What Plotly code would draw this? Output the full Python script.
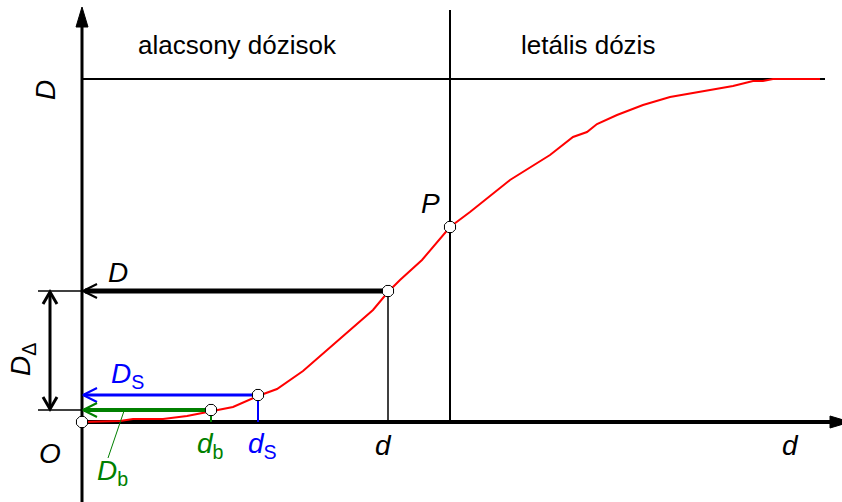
import plotly.graph_objects as go

# dose-response curve (d = dose, R = response)
dose = [0, 38, 51, 81, 105, 129, 151, 176, 195, 221, 245, 271, 291, 306, 318, 340, 351,
        368, 388, 428, 468, 491, 505, 515, 535, 561, 588, 618, 651, 671, 681, 691, 738]
resp = [0, 1, 3, 3, 6, 11, 15, 26, 33, 51, 72, 95, 112, 130, 142, 162, 175,
        195, 210, 242, 267, 285, 290, 298, 307, 317, 325, 330, 336, 341, 341, 343, 343]

D_max = 343          # plateau (lethal response)
d_P, D_P = 368, 195  # point P, border of lethal doses
d_x, D_x = 306, 131  # a dose d and its response D
d_s, D_s = 176, 27
d_b, D_b = 129, 12

x_end, y_top, y_bot = 768, 415, -80
FONT = "Liberation Sans, Arial, sans-serif"
BLUE, GREEN, RED = "#0000ff", "#008000", "#ff0000"

fig = go.Figure()


def line(xs, ys, color="black", width=2):
    fig.add_trace(go.Scatter(x=xs, y=ys, mode="lines", hoverinfo="skip",
                             line=dict(color=color, width=width)))


def chevron(xt, yt, ax, ay, bx, by, color, width=2):
    # open arrow head: two arms meeting at the tip
    line([xt + ax, xt, xt + bx], [yt + ay, yt, yt + by], color, width)


def tri(xs, ys):
    fig.add_trace(go.Scatter(x=xs, y=ys, mode="lines", fill="toself", fillcolor="black",
                             line=dict(color="black", width=1), hoverinfo="skip"))


def label(x, y, text, color="black", size=28, angle=0):
    fig.add_annotation(x=x, y=y, text=text, showarrow=False, textangle=angle,
                       font=dict(family=FONT, size=size, color=color),
                       xanchor="center", yanchor="middle")


# axes with filled arrow heads
line([0, 0], [y_bot, y_top - 18], width=3)
tri([-6, 0, 6, -6], [y_top - 20, y_top, y_top - 20, y_top - 20])
line([0, x_end - 18], [0, 0], width=4)
tri([x_end - 20, x_end, x_end - 20, x_end - 20], [6, 0, -6, 6])

# plateau and lethal border
line([0, 743], [D_max, D_max])
line([d_P, d_P], [0, 412])

# curve
line(dose, resp, RED, 2)

# D arrow (black)
line([d_x, d_x], [D_x, 0], width=1.5)
line([3, d_x], [D_x, D_x], width=5)
chevron(1, D_x, 14, 7, 14, -7, "black", 2)

# D_S arrow (blue)
line([d_s, d_s], [D_s, 0], BLUE, 2)
line([2, d_s], [D_s, D_s], BLUE, 3)
chevron(1, D_s, 14, 7, 14, -7, BLUE, 2)

# D_b arrow (green)
line([d_b, d_b], [D_b, 0], GREEN, 2)
line([2, d_b], [D_b, D_b], GREEN, 4)
chevron(1, D_b, 14, 7, 14, -7, GREEN, 2)
line([42, 26], [D_b - 1, -36], GREEN, 1)

# D_delta dimension
line([-44, 0], [D_x, D_x], width=1.5)
line([-44, 0], [D_b, D_b], width=1.5)
line([-32, -32], [D_b + 2, D_x - 2], width=3)
chevron(-32, D_x - 1, -7, -12, 7, -12, "black", 3)
chevron(-32, D_b + 1, -7, 12, 7, 12, "black", 3)

# points on the curve
fig.add_trace(go.Scatter(x=[0, d_b, d_s, d_x, d_P], y=[0, D_b, D_s, D_x, D_P],
                         mode="markers", hoverinfo="skip",
                         marker=dict(symbol="octagon", size=12, color="white",
                                     line=dict(color="black", width=1))))

# texts
label(155, 377, "alacsony dózisok", size=26)
label(506, 377, "letális dózis", size=26)
label(-37, 332, "<i>D</i>", angle=-90)
label(348, 219, "<i>P</i>")
label(36, 150, "<i>D</i>")
label(-60, 62, "<i>D</i><sub>Δ</sub>", angle=-90)
label(45, 47, "<i>D</i><sub>S</sub>", BLUE)
label(-32, -31, "<i>O</i>")
label(301, -23, "<i>d</i>")
label(708, -23, "<i>d</i>")
label(128, -23, "<i>d</i><sub>b</sub>", GREEN)
label(180, -23, "<i>d</i><sub>S</sub>", BLUE)
label(30, -50, "<i>D</i><sub>b</sub>", GREEN)

fig.update_layout(
    width=842, height=502, margin=dict(l=0, r=0, t=0, b=0),
    paper_bgcolor="white", plot_bgcolor="white", showlegend=False,
    xaxis=dict(range=[-82, 760], visible=False, fixedrange=True),
    yaxis=dict(range=[-80, 422], visible=False, fixedrange=True),
)

fig.write_html("out.html", config={"displayModeBar": False},
               post_script="document.body.style.margin='0';document.body.style.overflow='hidden';")
